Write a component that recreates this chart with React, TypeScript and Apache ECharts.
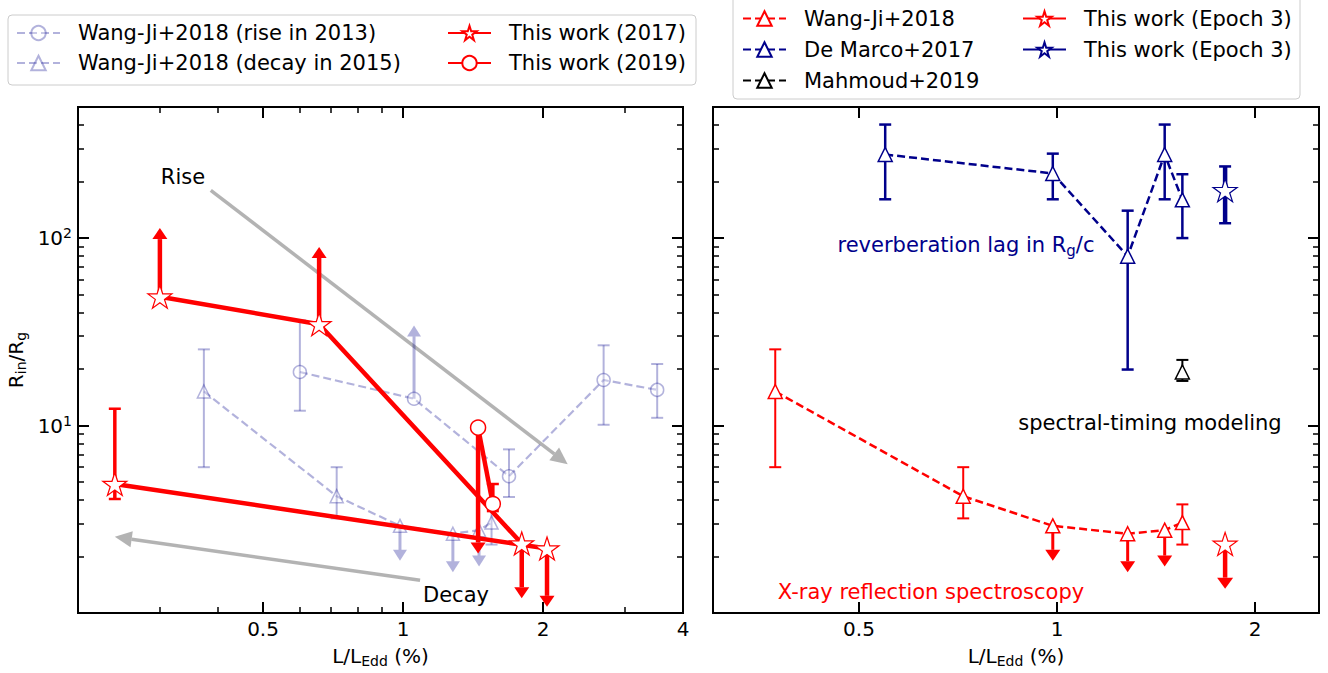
import React, { useEffect, useRef } from 'react';
import * as echarts from 'echarts';

// ---------------- axes ----------------
const LEFT_X_RANGE = [0.2, 4];
const RIGHT_X_RANGE = [0.3, 2.5];
const Y_RANGE = [1, 500];
const LEFT_X_MAJOR = [0.5, 1, 2, 4];
const LEFT_X_MINOR = [0.3, 0.4, 0.6, 0.7, 0.8, 0.9, 3];
const RIGHT_X_MAJOR = [0.5, 1, 2];
const Y_MAJOR = [10, 100];
const Y_MINOR = [2, 3, 4, 5, 6, 7, 8, 9, 20, 30, 40, 50, 60, 70, 80, 90, 200, 300, 400];

// ---------------- Wang-Ji+2018, rise in 2013 ----------------
const riseX = [0.6, 1.056, 1.69, 2.7, 3.52];
const riseY = [19.3, 13.9, 5.37, 17.5, 15.5];
const riseLo = [12.0, null, 4.16, 10.1, 11.0];
const riseHi = [36.4, null, 7.47, 26.8, 21.3];
const riseLimitTo = [null, 34.2, null, null, null];

// ---------------- Wang-Ji+2018, decay in 2015 ----------------
const decayX = [0.373, 0.72, 0.985, 1.28, 1.457, 1.55];
const decayY = [15.2, 4.2, 2.92, 2.65, 2.77, 3.04];
const decayLo = [6.0, 3.2, null, null, null, 2.32];
const decayHi = [25.5, 6.0, null, null, null, 3.8];
const decayLimitTo = [null, null, 1.9, 1.65, 1.77, null];

// ---------------- This work (2017) ----------------
const tw17X = [0.30, 0.66, 1.80, 0.24, 2.04];
const tw17Y = [48.7, 34.7, 2.35, 4.88, 2.21];
const tw17Lo = [null, null, null, 4.06, null];
const tw17Hi = [null, null, null, 12.3, null];
const tw17LimitTo = [113, 89.6, 1.2, null, 1.08];
const tw17Segments = [[0, 1, 2], [3, 4]];

// ---------------- This work (2019) ----------------
const tw19X = [1.45, 1.56];
const tw19Y = [9.76, 3.82];
const tw19Lo = [null, 3.5];
const tw19Hi = [null, 4.88];
const tw19LimitTo = [2.08, null];

// ---------------- right panel ----------------
const dmX = [0.548, 0.985, 1.28, 1.457, 1.55];
const dmY = [279, 221, 80, 279, 160];
const dmLo = [161, 161, 19.9, 161, 100];
const dmHi = [403, 282, 140, 403, 219];

const mahX = [1.55];
const mahY = [19.3];
const mahLo = [17.3];
const mahHi = [22.4];

const ep3RedX = [1.80];
const ep3RedY = [2.34];
const ep3RedLimitTo = [1.35];

const ep3BlueX = [1.80];
const ep3BlueY = [180];
const ep3BlueLo = [120];
const ep3BlueHi = [241];

// gray annotation arrows: [x0, y0, x1, y1]
const riseArrow = [0.386, 179.6, 2.26, 6.22];
const decayArrow = [1.088, 1.495, 0.24, 2.55];

// ---------------- styling ----------------
const FONT = 'DejaVu Sans';
const PURPLE = 'rgba(0,0,139,0.3)';
const NAVY = '#00008b';
const RED = '#ff0000';
const GRAY = 'rgba(128,128,128,0.6)';

const STAR =
  'path://' +
  Array.from({ length: 10 }, (_, i) => {
    const r = i % 2 ? 0.382 : 1;
    const a = -Math.PI / 2 + (i * Math.PI) / 5;
    return (i ? 'L' : 'M') + (r * Math.cos(a)).toFixed(4) + ',' + (r * Math.sin(a)).toFixed(4);
  }).join('') +
  'Z';

const lg = (v: number) => Math.log10(v);

function pts(xs: number[], ys: number[], idx?: number[]) {
  const ii = idx ?? xs.map((_, i) => i);
  return ii.map((i) => [lg(xs[i]), lg(ys[i])]);
}
function errItems(xs: number[], lo: (number | null)[], hi: (number | null)[]) {
  const out: number[][] = [];
  xs.forEach((x, i) => {
    if (lo[i] != null && hi[i] != null) out.push([lg(x), lg(lo[i] as number), lg(hi[i] as number)]);
  });
  return out;
}
function limItems(xs: number[], ys: number[], to: (number | null)[]) {
  const out: number[][] = [];
  xs.forEach((x, i) => {
    if (to[i] != null) out.push([lg(x), lg(ys[i]), lg(to[i] as number)]);
  });
  return out;
}

function errSeries(xi: number, yi: number, data: number[][], color: string, width: number, cap: number, z: number) {
  return {
    type: 'custom',
    name: '_eb',
    xAxisIndex: xi,
    yAxisIndex: yi,
    z,
    silent: true,
    data,
    encode: { x: 0, y: [1, 2] },
    renderItem: (_p: any, api: any) => {
      const x = api.value(0);
      const a = api.coord([x, api.value(1)]);
      const b = api.coord([x, api.value(2)]);
      const h = cap / 2;
      const st = { stroke: color, lineWidth: width };
      const cst = { stroke: color, lineWidth: Math.min(width, 2.5) };
      return {
        type: 'group',
        children: [
          { type: 'line', shape: { x1: a[0], y1: a[1], x2: b[0], y2: b[1] }, style: st },
          { type: 'line', shape: { x1: a[0] - h, y1: a[1], x2: a[0] + h, y2: a[1] }, style: cst },
          { type: 'line', shape: { x1: b[0] - h, y1: b[1], x2: b[0] + h, y2: b[1] }, style: cst },
        ],
      };
    },
  };
}

function limSeries(xi: number, yi: number, data: number[][], color: string, width: number, hw: number, hh: number, z: number) {
  return {
    type: 'custom',
    name: '_lim',
    xAxisIndex: xi,
    yAxisIndex: yi,
    z,
    silent: true,
    data,
    encode: { x: 0, y: [1, 2] },
    renderItem: (_p: any, api: any) => {
      const x = api.value(0);
      const a = api.coord([x, api.value(1)]);
      const b = api.coord([x, api.value(2)]);
      const dir = b[1] > a[1] ? 1 : -1;
      const base = b[1] - dir * hh;
      return {
        type: 'group',
        children: [
          { type: 'line', shape: { x1: a[0], y1: a[1], x2: b[0], y2: base }, style: { stroke: color, lineWidth: width } },
          {
            type: 'polygon',
            shape: { points: [[b[0] - hw / 2, base], [b[0] + hw / 2, base], [b[0], b[1]]] },
            style: { fill: color },
          },
        ],
      };
    },
  };
}

function arrowSeries(xi: number, yi: number, arrows: number[][]) {
  return {
    type: 'custom',
    name: '_arrow',
    xAxisIndex: xi,
    yAxisIndex: yi,
    z: 1,
    silent: true,
    data: arrows.map((a) => [lg(a[0]), lg(a[1]), lg(a[2]), lg(a[3])]),
    encode: { x: [0, 2], y: [1, 3] },
    renderItem: (_p: any, api: any) => {
      const p = api.coord([api.value(0), api.value(1)]);
      const q = api.coord([api.value(2), api.value(3)]);
      const dx = q[0] - p[0];
      const dy = q[1] - p[1];
      const len = Math.hypot(dx, dy);
      const ux = dx / len;
      const uy = dy / len;
      const hl = 17;
      const hw = 16;
      const bx = q[0] - ux * hl;
      const by = q[1] - uy * hl;
      return {
        type: 'group',
        children: [
          { type: 'line', shape: { x1: p[0], y1: p[1], x2: bx, y2: by }, style: { stroke: GRAY, lineWidth: 3.5 } },
          {
            type: 'polygon',
            shape: { points: [[q[0], q[1]], [bx - (uy * hw) / 2, by + (ux * hw) / 2], [bx + (uy * hw) / 2, by - (ux * hw) / 2]] },
            style: { fill: GRAY },
          },
        ],
      };
    },
  };
}

function markerSeries(o: {
  name: string; xi: number; yi: number; data: any[]; symbol: string; size: any;
  color: string; fill: string; border: number; lineWidth: number; dashed: boolean; z: number;
}) {
  return {
    type: 'line',
    name: o.name,
    xAxisIndex: o.xi,
    yAxisIndex: o.yi,
    z: o.z,
    silent: true,
    data: o.data,
    connectNulls: false,
    symbol: o.symbol,
    symbolSize: o.size,
    showSymbol: true,
    showAllSymbol: true,
    lineStyle: { color: o.color, width: o.lineWidth, type: o.dashed ? [8, 4] : 'solid' },
    itemStyle: { color: o.fill, borderColor: o.color, borderWidth: o.border },
    emphasis: { disabled: true },
  };
}

const SUB = { fontSize: 14, lineHeight: 14, verticalAlign: 'bottom', fontFamily: FONT, color: '#000' };
const SUP = { fontSize: 14, lineHeight: 14, verticalAlign: 'top', fontFamily: FONT, color: '#000' };

function xAxisDef(grid: number, pos: string, range: number[], ticks: number[], len: number, withLabels: boolean) {
  const vals = ticks.map(lg);
  const ax: any = {
    type: 'value',
    gridIndex: grid,
    position: pos,
    min: lg(range[0]),
    max: lg(range[1]),
    axisLine: { show: true, onZero: false, lineStyle: { color: '#000', width: 2 } },
    axisTick: { show: true, inside: true, length: len, customValues: vals, lineStyle: { color: '#000', width: len > 8 ? 2 : 1.5 } },
    axisLabel: { show: false },
    splitLine: { show: false },
  };
  if (withLabels) {
    ax.axisLabel = {
      show: true,
      customValues: vals,
      formatter: (v: number) => String(parseFloat(Math.pow(10, v).toPrecision(3))),
      fontSize: 20,
      fontFamily: FONT,
      color: '#000',
      margin: 6,
    };
    ax.name = 'L/L{sub|Edd} (%)';
    ax.nameLocation = 'middle';
    ax.nameGap = 29;
    ax.nameTextStyle = { fontSize: 20, fontFamily: FONT, color: '#000', lineHeight: 24, rich: { sub: SUB } };
  }
  return ax;
}

function yAxisDef(grid: number, pos: string, ticks: number[], len: number, withLabels: boolean) {
  const vals = ticks.map(lg);
  const ax: any = {
    type: 'value',
    gridIndex: grid,
    position: pos,
    min: lg(Y_RANGE[0]),
    max: lg(Y_RANGE[1]),
    axisLine: { show: true, onZero: false, lineStyle: { color: '#000', width: 2 } },
    axisTick: { show: true, inside: true, length: len, customValues: vals, lineStyle: { color: '#000', width: len > 8 ? 2 : 1.5 } },
    axisLabel: { show: false },
    splitLine: { show: false },
  };
  if (withLabels) {
    ax.axisLabel = {
      show: true,
      customValues: vals,
      formatter: (v: number) => '10{sup|' + Math.round(v) + '}',
      fontSize: 20,
      lineHeight: 24,
      fontFamily: FONT,
      color: '#000',
      margin: 6,
      rich: { sup: SUP },
    };
    ax.name = 'R{sub|in}/R{sub|g}';
    ax.nameLocation = 'middle';
    ax.nameGap = 50;
    ax.nameTextStyle = { fontSize: 20, fontFamily: FONT, color: '#000', lineHeight: 24, rich: { sub: SUB } };
  }
  return ax;
}

function buildOption() {
  const tw17Data: any[] = [];
  tw17Segments.forEach((seg, k) => {
    if (k > 0) tw17Data.push(['-', '-']);
    seg.forEach((i) => tw17Data.push([lg(tw17X[i]), lg(tw17Y[i])]));
  });

  const legendText = (lh: number) => ({ fontSize: 21, fontFamily: FONT, color: '#000', lineHeight: lh, padding: [0, 0, 0, 13] });
  const legendBase = { orient: 'vertical', itemWidth: 43, itemHeight: 18, itemGap: 0, padding: 0, selectedMode: false };

  return {
    animation: false,
    textStyle: { fontFamily: FONT },
    grid: [
      { left: 78, top: 107, width: 605, height: 511 },
      { left: 713, top: 107, width: 606, height: 511 },
    ],
    xAxis: [
      xAxisDef(0, 'bottom', LEFT_X_RANGE, LEFT_X_MAJOR, 11, true),
      xAxisDef(0, 'bottom', LEFT_X_RANGE, LEFT_X_MINOR, 6, false),
      xAxisDef(0, 'top', LEFT_X_RANGE, LEFT_X_MAJOR, 11, false),
      xAxisDef(0, 'top', LEFT_X_RANGE, LEFT_X_MINOR, 6, false),
      xAxisDef(1, 'bottom', RIGHT_X_RANGE, RIGHT_X_MAJOR, 11, true),
      xAxisDef(1, 'top', RIGHT_X_RANGE, RIGHT_X_MAJOR, 11, false),
    ],
    yAxis: [
      yAxisDef(0, 'left', Y_MAJOR, 11, true),
      yAxisDef(0, 'left', Y_MINOR, 6, false),
      yAxisDef(0, 'right', Y_MAJOR, 11, false),
      yAxisDef(0, 'right', Y_MINOR, 6, false),
      yAxisDef(1, 'left', Y_MAJOR, 11, false),
      yAxisDef(1, 'left', Y_MINOR, 6, false),
      yAxisDef(1, 'right', Y_MAJOR, 11, false),
      yAxisDef(1, 'right', Y_MINOR, 6, false),
    ],
    legend: [
      { ...legendBase, left: 16, top: 18, textStyle: legendText(30), data: ['Wang-Ji+2018 (rise in 2013)', 'Wang-Ji+2018 (decay in 2015)'] },
      { ...legendBase, left: 447, top: 18, textStyle: legendText(30), data: ['This work (2017)', 'This work (2019)'] },
      { ...legendBase, left: 742, top: 3, textStyle: legendText(31), data: ['Wang-Ji+2018', 'De Marco+2017', 'Mahmoud+2019'] },
      { ...legendBase, left: 1022, top: 3, textStyle: legendText(31), data: ['This work (Epoch 3)', 'This work (Epoch 3) '] },
    ],
    graphic: [
      { type: 'rect', z: 0, shape: { x: 8, y: 15, width: 688, height: 70, r: 4 }, style: { fill: 'rgba(255,255,255,0.8)', stroke: '#cccccc', lineWidth: 1 } },
      { type: 'rect', z: 0, shape: { x: 733, y: -6, width: 567, height: 105, r: 4 }, style: { fill: 'rgba(255,255,255,0.8)', stroke: '#cccccc', lineWidth: 1 } },
      { type: 'text', z: 10, x: 183, y: 177, style: { text: 'Rise', fontSize: 21, fontFamily: FONT, fill: '#000', align: 'center', verticalAlign: 'middle' } },
      { type: 'text', z: 10, x: 456, y: 595, style: { text: 'Decay', fontSize: 21, fontFamily: FONT, fill: '#000', align: 'center', verticalAlign: 'middle' } },
      {
        type: 'text', z: 10, x: 966, y: 245,
        style: {
          text: 'reverberation lag in R{sub|g}/c', fontSize: 21, lineHeight: 26, fontFamily: FONT, fill: NAVY, align: 'center', verticalAlign: 'middle',
          rich: { sub: { fontSize: 15, lineHeight: 15, verticalAlign: 'bottom', fontFamily: FONT, fill: NAVY } },
        },
      },
      { type: 'text', z: 10, x: 1150, y: 423, style: { text: 'spectral-timing modeling', fontSize: 21, fontFamily: FONT, fill: '#000', align: 'center', verticalAlign: 'middle' } },
      { type: 'text', z: 10, x: 931, y: 592, style: { text: 'X-ray reflection spectroscopy', fontSize: 21, fontFamily: FONT, fill: RED, align: 'center', verticalAlign: 'middle' } },
    ],
    series: [
      // ---------- left panel ----------
      arrowSeries(0, 0, [riseArrow, decayArrow]),
      errSeries(0, 0, errItems(riseX, riseLo, riseHi), PURPLE, 2, 12, 2),
      limSeries(0, 0, limItems(riseX, riseY, riseLimitTo), PURPLE, 3, 14, 11, 2),
      errSeries(0, 0, errItems(decayX, decayLo, decayHi), PURPLE, 2, 12, 2),
      limSeries(0, 0, limItems(decayX, decayY, decayLimitTo), PURPLE, 3, 14, 11, 2),
      markerSeries({ name: 'Wang-Ji+2018 (rise in 2013)', xi: 0, yi: 0, data: pts(riseX, riseY), symbol: 'circle', size: 13, color: PURPLE, fill: 'rgba(255,255,255,0.3)', border: 1.5, lineWidth: 2.2, dashed: true, z: 3 }),
      markerSeries({ name: 'Wang-Ji+2018 (decay in 2015)', xi: 0, yi: 0, data: pts(decayX, decayY), symbol: 'triangle', size: 13, color: PURPLE, fill: 'rgba(255,255,255,0.3)', border: 1.5, lineWidth: 2.2, dashed: true, z: 3 }),
      errSeries(0, 0, errItems(tw17X, tw17Lo, tw17Hi), RED, 3.5, 12, 4),
      limSeries(0, 0, limItems(tw17X, tw17Y, tw17LimitTo), RED, 4.5, 15, 11, 4),
      errSeries(0, 0, errItems(tw19X, tw19Lo, tw19Hi), RED, 3.5, 12, 4),
      limSeries(0, 0, limItems(tw19X, tw19Y, tw19LimitTo), RED, 4.5, 15, 11, 4),
      markerSeries({ name: 'This work (2017)', xi: 0, yi: 0, data: tw17Data, symbol: STAR, size: [24, 23], color: RED, fill: '#ffffff', border: 1.2, lineWidth: 4.5, dashed: false, z: 5 }),
      markerSeries({ name: 'This work (2019)', xi: 0, yi: 0, data: pts(tw19X, tw19Y), symbol: 'circle', size: 15, color: RED, fill: '#ffffff', border: 1.5, lineWidth: 4.5, dashed: false, z: 5 }),

      // ---------- right panel ----------
      errSeries(4, 4, errItems(decayX, decayLo, decayHi), RED, 2, 12, 2),
      limSeries(4, 4, limItems(decayX, decayY, decayLimitTo), RED, 3, 15, 11, 2),
      errSeries(4, 4, errItems(dmX, dmLo, dmHi), NAVY, 2.5, 12, 2),
      errSeries(4, 4, errItems(mahX, mahLo, mahHi), '#000', 2, 12, 2),
      limSeries(4, 4, limItems(ep3RedX, ep3RedY, ep3RedLimitTo), RED, 4.5, 16, 11, 2),
      errSeries(4, 4, errItems(ep3BlueX, ep3BlueLo, ep3BlueHi), NAVY, 4.5, 12, 2),
      markerSeries({ name: 'Wang-Ji+2018', xi: 4, yi: 4, data: pts(decayX, decayY), symbol: 'triangle', size: 14, color: RED, fill: '#ffffff', border: 1.5, lineWidth: 2.5, dashed: true, z: 3 }),
      markerSeries({ name: 'De Marco+2017', xi: 4, yi: 4, data: pts(dmX, dmY), symbol: 'triangle', size: 14, color: NAVY, fill: '#ffffff', border: 1.5, lineWidth: 2.5, dashed: true, z: 3 }),
      markerSeries({ name: 'Mahmoud+2019', xi: 4, yi: 4, data: pts(mahX, mahY), symbol: 'triangle', size: 14, color: '#000', fill: '#ffffff', border: 1.5, lineWidth: 2.5, dashed: true, z: 3 }),
      markerSeries({ name: 'This work (Epoch 3)', xi: 4, yi: 4, data: pts(ep3RedX, ep3RedY), symbol: STAR, size: [24, 23], color: RED, fill: '#ffffff', border: 1.2, lineWidth: 4.5, dashed: false, z: 3 }),
      markerSeries({ name: 'This work (Epoch 3) ', xi: 4, yi: 4, data: pts(ep3BlueX, ep3BlueY), symbol: STAR, size: [24, 23], color: NAVY, fill: '#ffffff', border: 1.2, lineWidth: 4.5, dashed: false, z: 3 }),
    ],
  };
}

export default function App() {
  const ref = useRef<HTMLDivElement>(null);
  useEffect(() => {
    if (!ref.current) return;
    const chart = echarts.init(ref.current, undefined, { renderer: 'svg' });
    chart.setOption(buildOption() as any);
    return () => chart.dispose();
  }, []);
  return <div ref={ref} style={{ position: 'absolute', left: 0, top: 0, width: 1328, height: 673, background: '#fff' }} />;
}
